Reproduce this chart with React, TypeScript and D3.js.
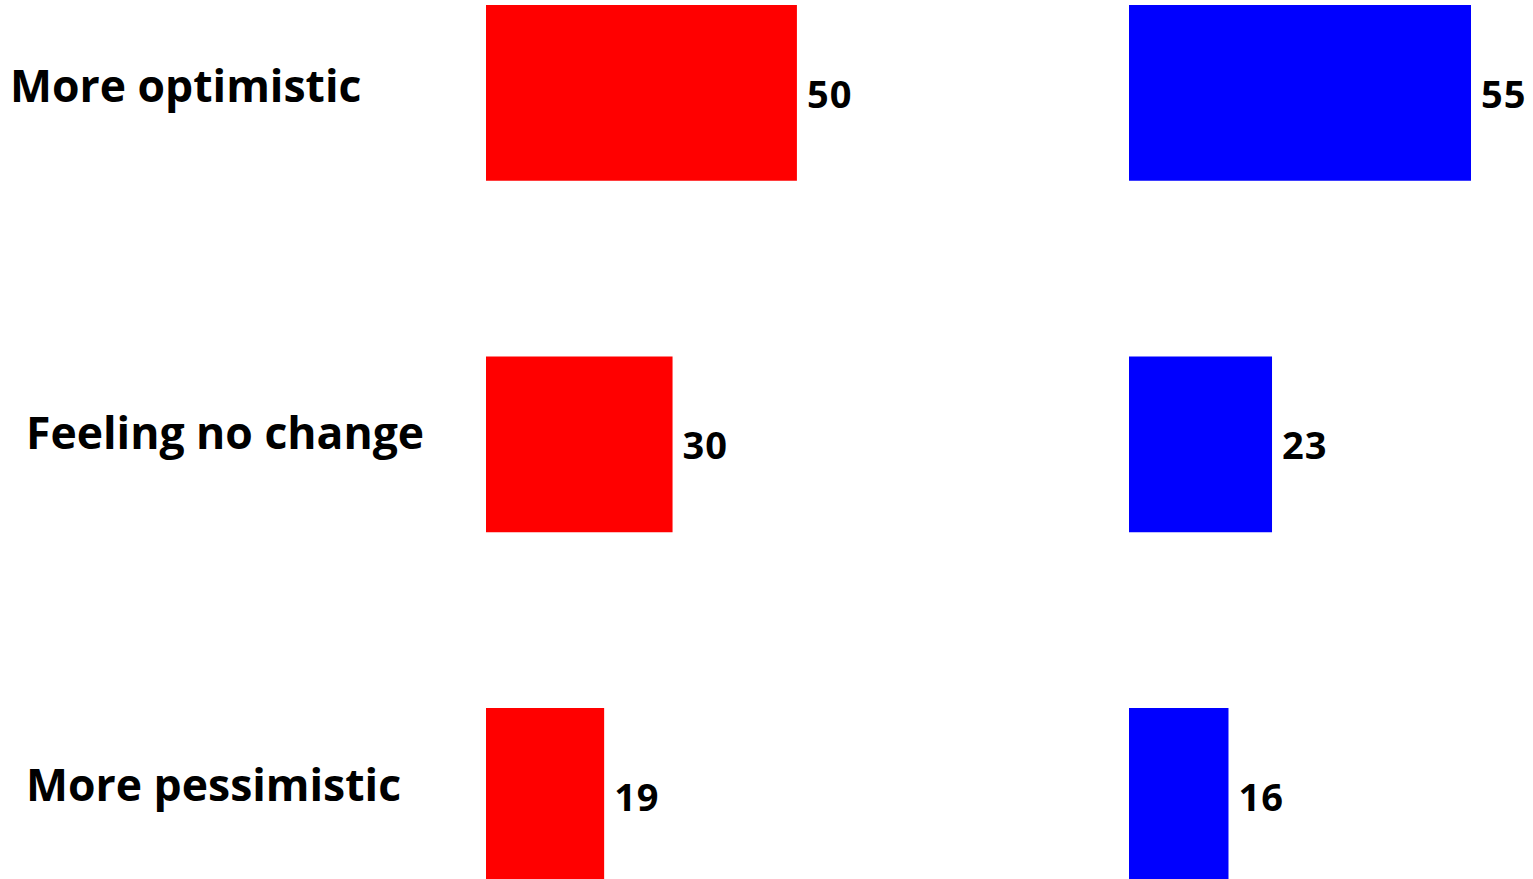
import React from "react";
import * as d3 from "d3";

const categories = ["More optimistic", "Feeling no change", "More pessimistic"];
const seriesA = [50, 30, 19];
const seriesB = [55, 23, 16];
const seriesColors = ["#ff0000", "#0000ff"];

const W = 1533;
const H = 879;
const panelX = [486, 1129];
const labelX = [10, 26, 26];
const labelDy = [9, 5, 5];
const FONT = "'Open Sans', 'Liberation Sans', sans-serif";

export default function App() {
  const y = d3
    .scaleBand<string>()
    .domain(categories)
    .range([5 - 0.25 * 351.5, 5 - 0.25 * 351.5 + 351.5 * 3])
    .paddingInner(0.5)
    .paddingOuter(0.25);
  const x = d3.scaleLinear().domain([0, 55]).range([0, 342]);
  const series = [seriesA, seriesB];

  return (
    <svg
      width={W}
      height={H}
      style={{ position: "absolute", left: 0, top: 0, background: "#fff" }}
      fontFamily={FONT}
      fontWeight={700}
    >
      {categories.map((c, i) => (
        <text
          key={c}
          x={labelX[i]}
          y={(y(c) as number) + y.bandwidth() / 2 + labelDy[i]}
          fontSize={44.5}
          fill="#000"
        >
          {c}
        </text>
      ))}
      {series.map((vals, s) => (
        <g key={s} transform={`translate(${panelX[s]},0)`}>
          {vals.map((v, i) => {
            const cy = (y(categories[i]) as number) + y.bandwidth() / 2;
            return (
              <g key={i}>
                <rect
                  x={0}
                  y={y(categories[i])}
                  width={x(v)}
                  height={y.bandwidth()}
                  fill={seriesColors[s]}
                />
                <text
                  x={x(v) + 10}
                  y={cy + 15}
                  fontSize={38}
                  letterSpacing={1}
                  fill="#000"
                >
                  {v}
                </text>
              </g>
            );
          })}
        </g>
      ))}
    </svg>
  );
}
